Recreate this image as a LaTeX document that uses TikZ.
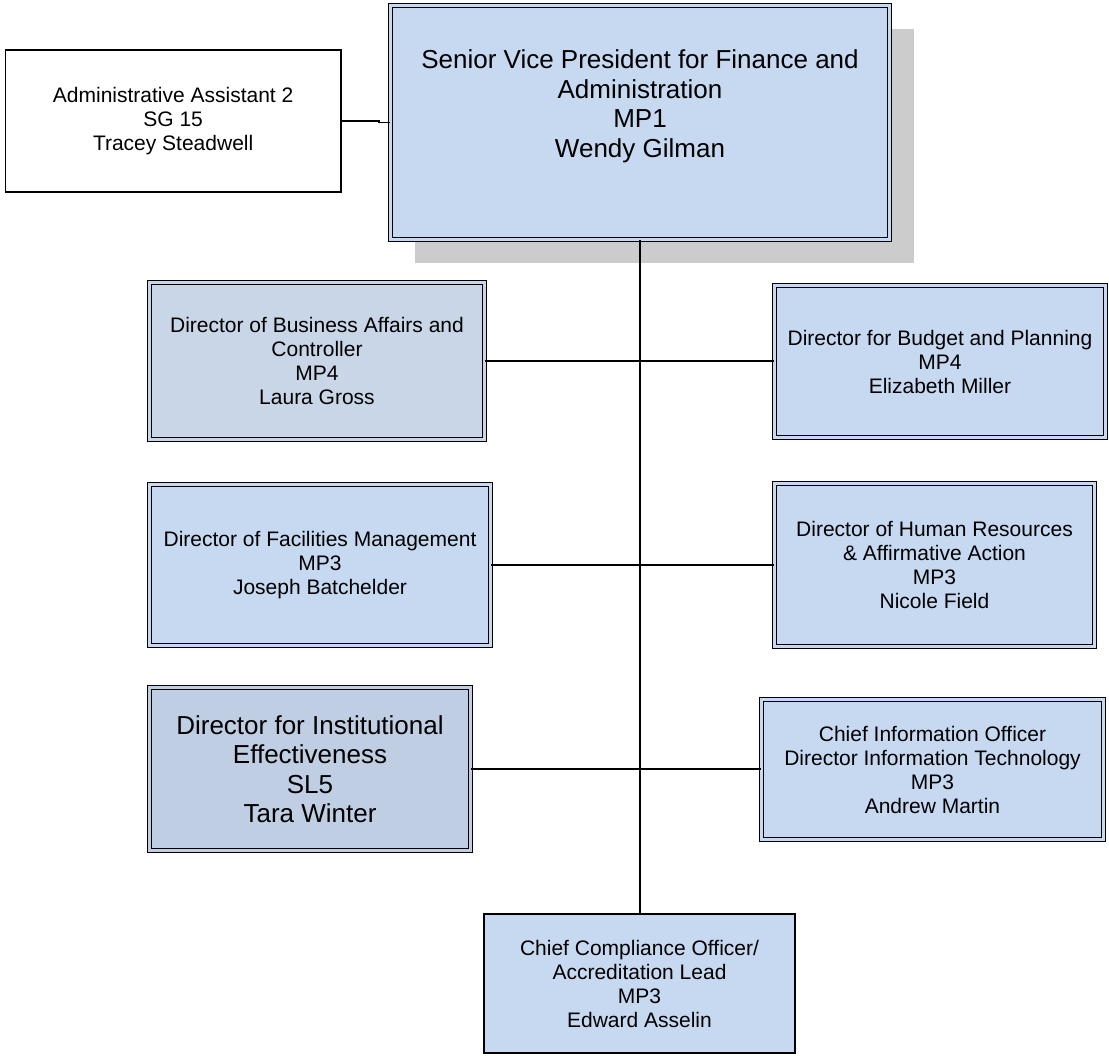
\documentclass[tikz,border=0pt]{standalone}
\usepackage{fontspec}
\setmainfont{Liberation Sans}
\usepackage{tikz}
\usetikzlibrary{positioning, calc, shadows}
\definecolor{boxblue}{RGB}{198,217,240}
\definecolor{boxgrey}{RGB}{201,214,231}
\definecolor{boxslate}{RGB}{191,206,226}
\tikzstyle{post} = [rectangle, draw=black, line width=1.5pt, double=boxblue, double distance=2.2pt, fill=boxblue, align=center, inner sep=2pt, font=\fontsize{21}{24}\selectfont]
\tikzstyle{big} = [font=\fontsize{26}{29.5}\selectfont]
\tikzstyle{plain} = [rectangle, draw=black, line width=1.8pt, align=center, inner sep=2pt, font=\fontsize{21}{24}\selectfont]
\tikzstyle{link} = [line width=1.6pt]

\begin{document}
\begin{tikzpicture}[x=1pt, y=-1pt]
            \useasboundingbox (0,0) rectangle (1109,1056);
            \node (svp) [post, big, minimum width=499pt, minimum height=234pt, drop shadow={shadow xshift=24pt, shadow yshift=-24pt, fill=black!20, opacity=1}] at (640,122.5) {Senior Vice President for Finance and\\Administration\\MP1\\Wendy Gilman\\[8pt]~};
            \node (assist) [plain, minimum width=335.4pt, minimum height=142.4pt, left=48pt of svp, yshift=1.5pt] {Administrative Assistant 2\\SG 15\\Tracey Steadwell};

            \node (biz) [post, fill=boxgrey, double=boxgrey, minimum width=335pt, minimum height=157pt] at (317,361) {Director of Business Affairs and\\Controller\\MP4\\Laura Gross};
            \node (budget) [post, minimum width=331pt, minimum height=152pt] at (940,361.5) {Director for Budget and Planning\\MP4\\Elizabeth Miller};
            \node (fac) [post, minimum width=341pt, minimum height=161pt] at (320,565) {Director of Facilities Management\\MP3\\Joseph Batchelder};
            \node (hr) [post, minimum width=320pt, minimum height=163pt] at (934.5,565) {Director of Human Resources\\\& Affirmative Action\\MP3\\Nicole Field};
            \node (inst) [post, big, fill=boxslate, double=boxslate, minimum width=321pt, minimum height=163pt] at (310,769) {Director for Institutional\\Effectiveness\\SL5\\Tara Winter};
            \node (cio) [post, minimum width=342pt, minimum height=140pt] at (932.5,769.5) {Chief Information Officer\\Director Information Technology\\MP3\\Andrew Martin};
            \node (comp) [plain, fill=boxblue, minimum width=311pt, minimum height=139pt] at (639.5,983.5) {Chief Compliance Officer/\\Accreditation Lead\\MP3\\Edward Asselin};

            \draw [link] (assist.east) -- ++(37,0) |- (svp.west);
            \draw [link] (svp.south) -- (svp.south |- comp.north);
            \draw [link] (biz.east) -- (biz.east -| budget.west);
            \draw [link] (fac.east) -- (fac.east -| hr.west);
            \draw [link] (inst.east) -- (inst.east -| cio.west);
        \end{tikzpicture}
\end{document}
